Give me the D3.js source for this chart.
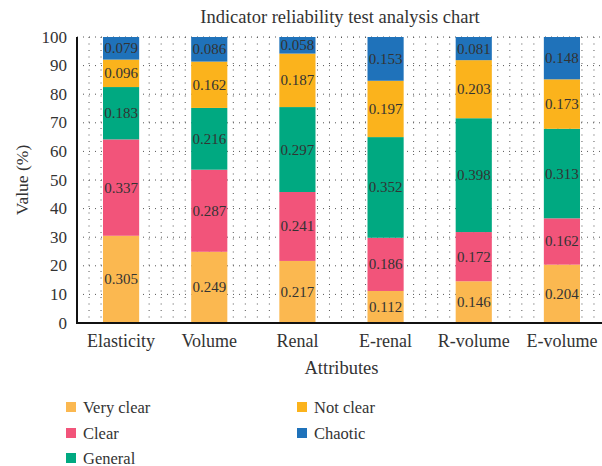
<!DOCTYPE html>
<html>
<head>
<meta charset="utf-8">
<script src="https://cdn.jsdelivr.net/npm/d3@7"></script>
<style>
  body { margin: 0; background: #fff; }
  svg text { font-family: "Liberation Serif", "DejaVu Serif", serif; fill: #333; }
</style>
</head>
<body>
<svg id="chart"></svg>
<script>
const width = 602;
const height = 466;

// data
const attributes = ["Elasticity", "Volume", "Renal", "E-renal", "R-volume", "E-volume"];
const levels = ["Very clear", "Clear", "General", "Not clear", "Chaotic"];
const veryClear = [0.305, 0.249, 0.217, 0.112, 0.146, 0.204];
const clear     = [0.337, 0.287, 0.241, 0.186, 0.172, 0.162];
const general   = [0.183, 0.216, 0.297, 0.352, 0.398, 0.313];
const notClear  = [0.096, 0.162, 0.187, 0.197, 0.203, 0.173];
const chaotic   = [0.079, 0.086, 0.058, 0.153, 0.081, 0.148];
const yTicks = [0, 10, 20, 30, 40, 50, 60, 70, 80, 90, 100];

const colors = ["#FBB850", "#F2547A", "#00A981", "#FBB31C", "#1F72BA"];

const series = [veryClear, clear, general, notClear, chaotic];
const rows = attributes.map((a, i) => {
  const r = { attr: a };
  levels.forEach((l, j) => r[l] = series[j][i] * 100);
  return r;
});

const margin = { left: 77, right: -4, top: 37, bottom: 143 };
const plotW = width - margin.left - margin.right;
const plotH = height - margin.top - margin.bottom;

const svg = d3.select("#chart").attr("width", width).attr("height", height);

const x = d3.scaleBand().domain(attributes).range([0, plotW]).paddingInner(0.59).paddingOuter(0.295);
const y = d3.scaleLinear().domain([0, 100]).range([plotH, 0]);
// fine vertical grid used in the background pattern
const gx = d3.scaleLinear().domain([0, 44]).range([0, plotW]);

const g = svg.append("g").attr("transform", `translate(${margin.left},${margin.top})`);

// dotted grid
g.append("g").selectAll("line")
  .data(d3.range(1, 45))
  .join("line")
  .attr("x1", d => gx(d)).attr("x2", d => gx(d))
  .attr("y1", 0).attr("y2", plotH)
  .attr("stroke", "#555").attr("stroke-width", 1)
  .attr("stroke-dasharray", "1,5.5");

g.append("g").selectAll("line")
  .data(yTicks.filter(d => d > 0))
  .join("line")
  .attr("x1", 0).attr("x2", plotW)
  .attr("y1", d => y(d)).attr("y2", d => y(d))
  .attr("stroke", "#555").attr("stroke-width", 1)
  .attr("stroke-dasharray", "1,5");

const stacked = d3.stack().keys(levels)(rows);

const layer = g.selectAll("g.layer")
  .data(stacked)
  .join("g")
  .attr("class", "layer")
  .attr("fill", (d, i) => colors[i]);

layer.selectAll("rect")
  .data(d => d)
  .join("rect")
  .attr("x", d => x(d.data.attr))
  .attr("width", x.bandwidth())
  .attr("y", d => y(d[1]))
  .attr("height", d => y(d[0]) - y(d[1]));

layer.selectAll("text")
  .data(d => d.map(v => ({ v, key: d.key })))
  .join("text")
  .attr("x", d => x(d.v.data.attr) + x.bandwidth() / 2)
  .attr("y", d => (y(d.v[0]) + y(d.v[1])) / 2)
  .attr("text-anchor", "middle")
  .attr("dominant-baseline", "central")
  .attr("font-size", 15)
  .text(d => (d.v.data[d.key] / 100).toFixed(3));

// axes
g.append("line")
  .attr("x1", 0).attr("x2", 0).attr("y1", 0).attr("y2", plotH)
  .attr("stroke", "#111").attr("stroke-width", 2);
g.append("line")
  .attr("x1", -1).attr("x2", plotW).attr("y1", plotH).attr("y2", plotH)
  .attr("stroke", "#111").attr("stroke-width", 2);

g.append("g").selectAll("text")
  .data(yTicks)
  .join("text")
  .attr("x", -10)
  .attr("y", d => y(d))
  .attr("text-anchor", "end")
  .attr("dominant-baseline", "central")
  .attr("font-size", 17)
  .text(d => d);

g.append("g").selectAll("text")
  .data(attributes)
  .join("text")
  .attr("x", d => x(d) + x.bandwidth() / 2)
  .attr("y", plotH + 18)
  .attr("text-anchor", "middle")
  .attr("dominant-baseline", "central")
  .attr("font-size", 18)
  .text(d => d);

svg.append("text")
  .attr("x", margin.left + plotW / 2)
  .attr("y", 368)
  .attr("text-anchor", "middle")
  .attr("dominant-baseline", "central")
  .attr("font-size", 18.5)
  .text("Attributes");

svg.append("text")
  .attr("transform", `translate(22,${margin.top + plotH / 2}) rotate(-90)`)
  .attr("text-anchor", "middle")
  .attr("dominant-baseline", "central")
  .attr("font-size", 17.5)
  .text("Value (%)");

svg.append("text")
  .attr("x", 340)
  .attr("y", 17)
  .attr("text-anchor", "middle")
  .attr("dominant-baseline", "central")
  .attr("font-size", 18.5)
  .text("Indicator reliability test analysis chart");

// legend
const legendPos = [[66, 407], [66, 433], [66, 458], [297, 407], [297, 433]];
const legend = svg.append("g").selectAll("g")
  .data(levels)
  .join("g")
  .attr("transform", (d, i) => `translate(${legendPos[i][0]},${legendPos[i][1]})`);
legend.append("rect")
  .attr("x", 0).attr("y", -5).attr("width", 10).attr("height", 10)
  .attr("fill", (d, i) => colors[i]);
legend.append("text")
  .attr("x", 17).attr("y", 0)
  .attr("dominant-baseline", "central")
  .attr("font-size", 16.5)
  .text(d => d);
</script>
</body>
</html>
